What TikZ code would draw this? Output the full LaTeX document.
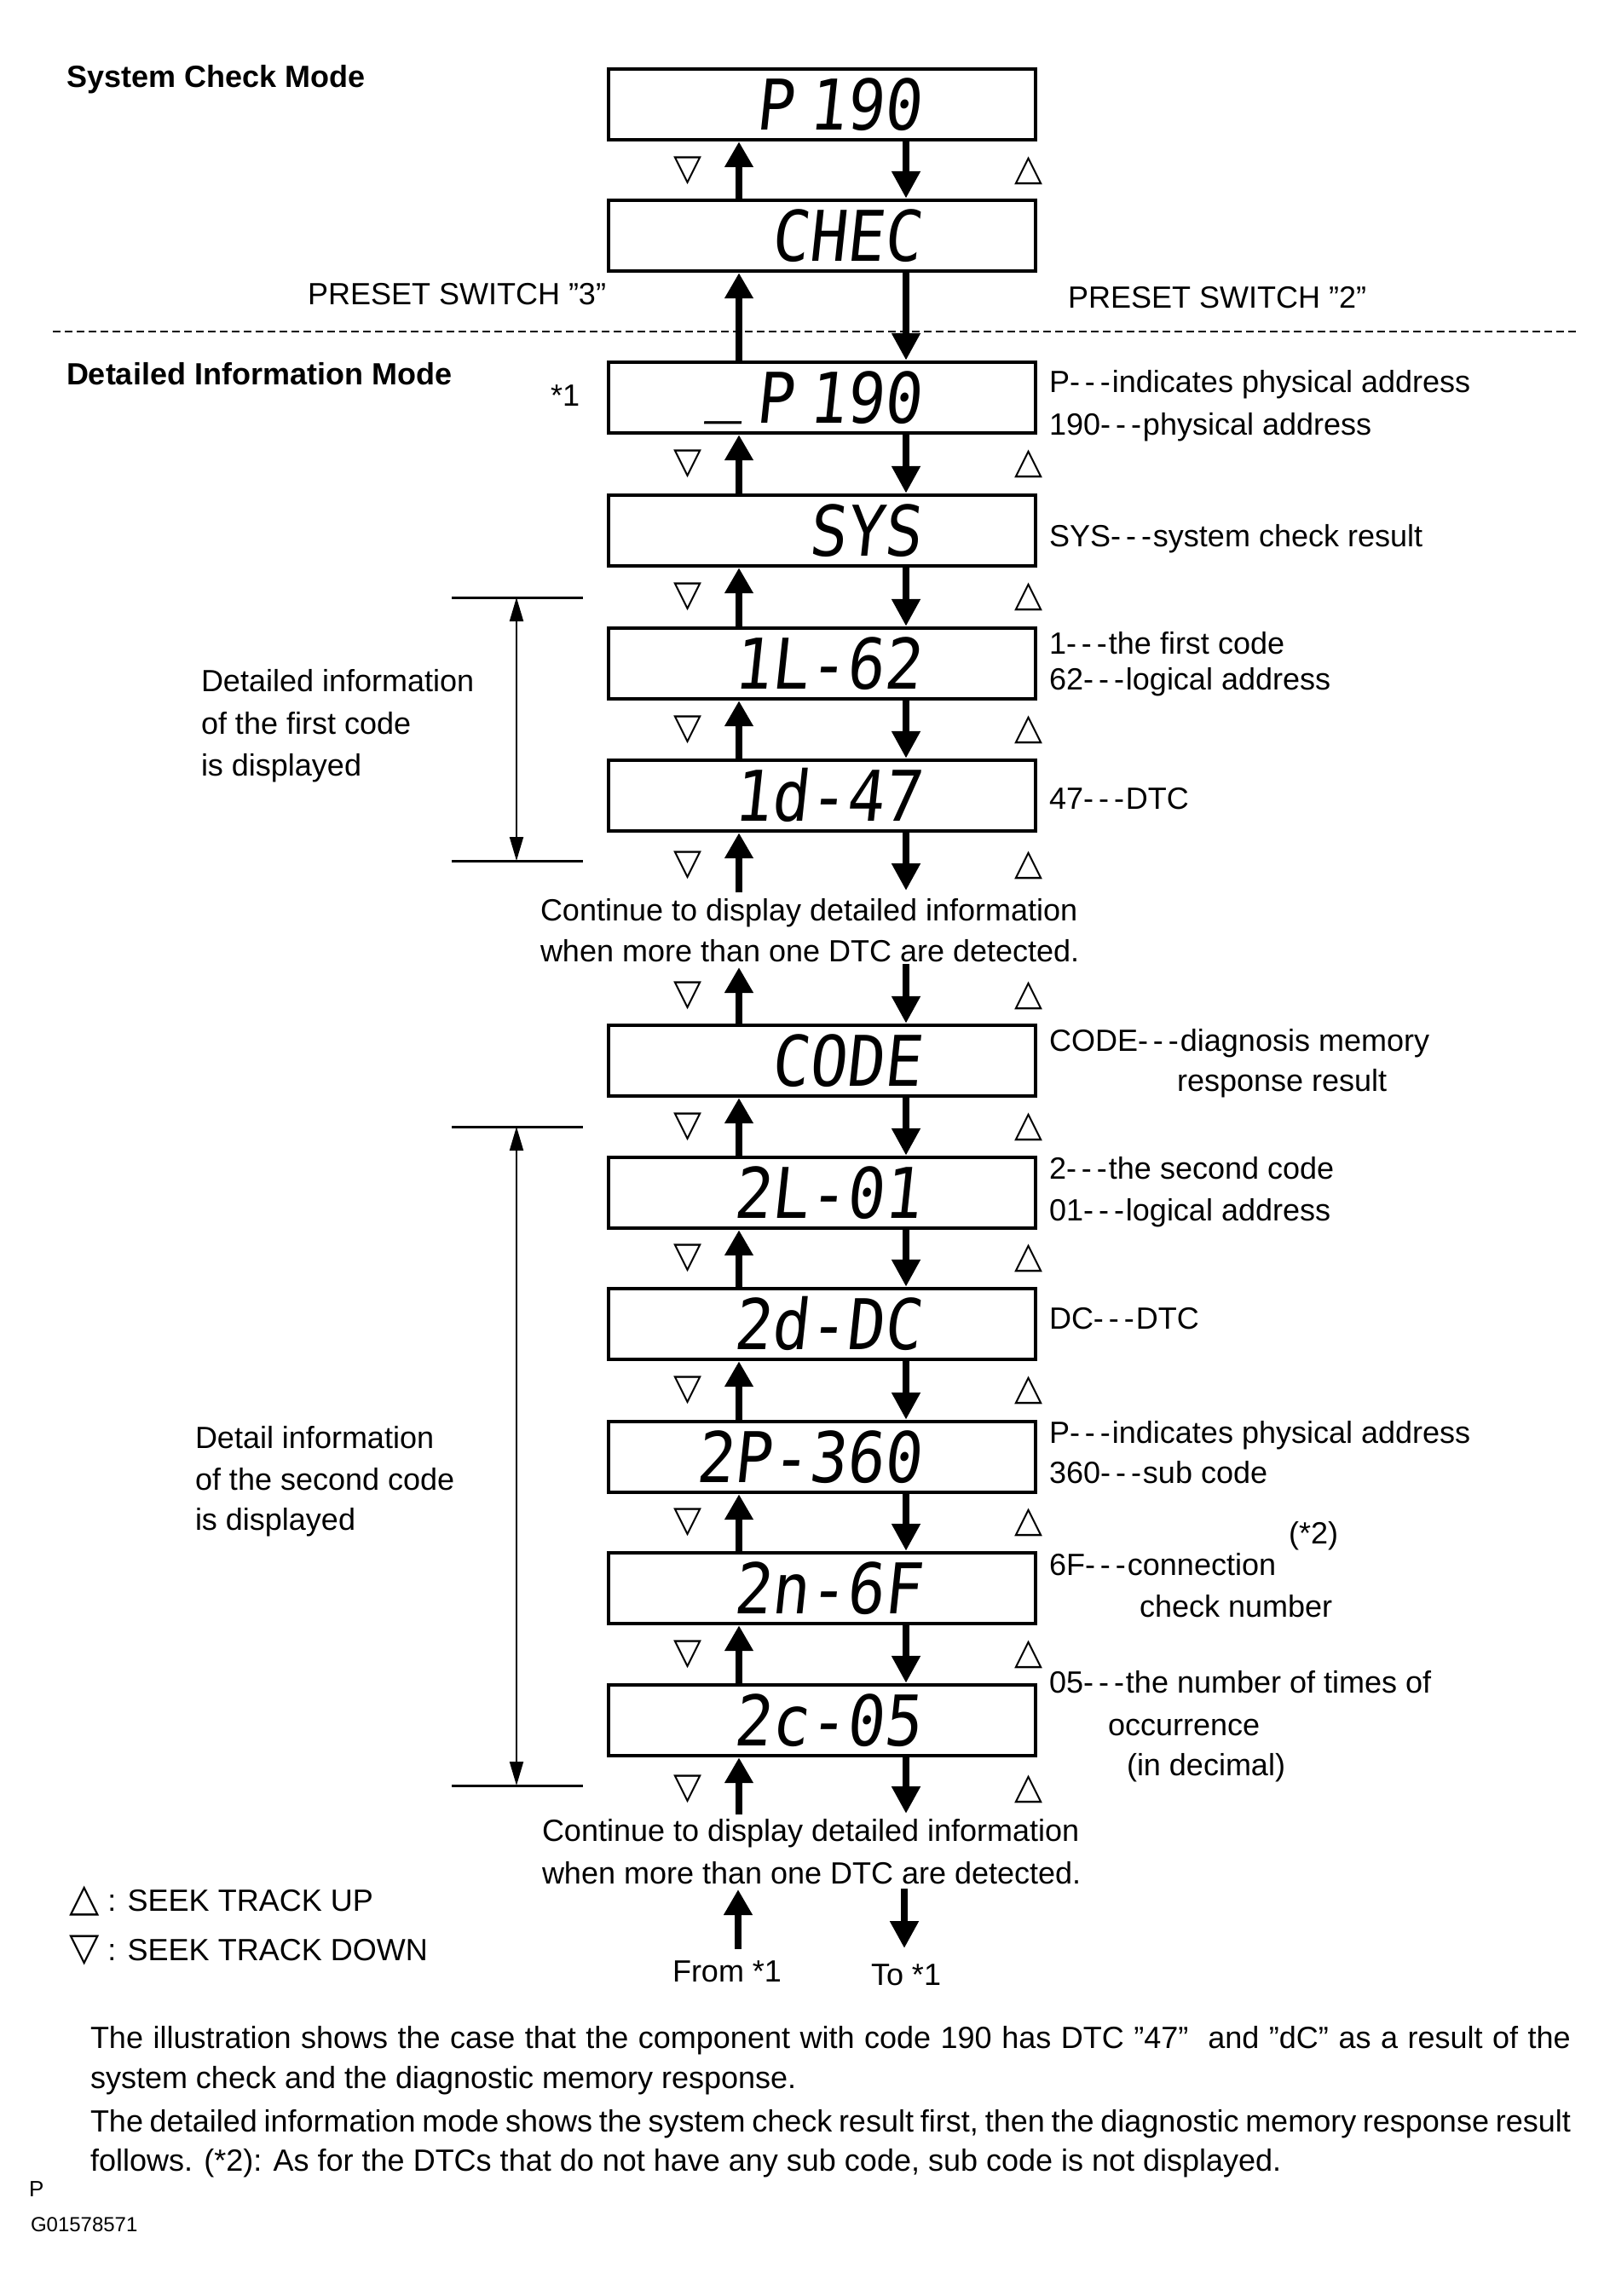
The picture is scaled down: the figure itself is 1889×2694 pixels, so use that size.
\documentclass[tikz,border=0pt]{standalone}
\usepackage{fontspec}
\usepackage{graphicx}
\setmainfont{Liberation Sans}
\newfontfamily\segfont{DejaVu Sans Mono}[FakeSlant=0.12]
\newfontfamily\symfont{DejaVu Sans}
\usetikzlibrary{arrows.meta}
\newcommand\tdash{-\kern3pt-\kern3pt-\kern1pt}
\newcommand\up{{\symfont\bfseries\fontsize{23}{23}\selectfont △}}
\newcommand\dn{{\symfont\bfseries\fontsize{23}{23}\selectfont ▽}}
\begin{document}
\begin{tikzpicture}[x=0.5pt,y=-0.5pt,
  every node/.style={inner sep=0pt,outer sep=0pt},
  txt/.style={anchor=base west,font=\fontsize{18}{22}\selectfont},
  hdr/.style={anchor=base west,font=\fontsize{18}{22}\selectfont\bfseries},
  lcd/.style={draw,line width=2.2pt,outer sep=1.1pt,minimum width=250.5pt,minimum height=41.5pt},
  seg/.style={anchor=base east,font=\segfont\fontsize{41}{41}\selectfont},
  upar/.style={line width=4pt,-{Triangle[width=16pt,length=15pt]}},
  dnar/.style={line width=4pt,-{Triangle[width=16pt,length=16pt]}},
  tri/.style={font=\symfont\bfseries\fontsize{21.5}{22}\selectfont},
  brk/.style={line width=1pt,{Triangle[width=8pt,length=14pt]}-{Triangle[width=8pt,length=14pt]}},
  bline/.style={line width=1.5pt},
  ]
\useasboundingbox (0,0) rectangle (1889,2694);
\fill[white] (0,0) rectangle (1889,2694);

\coordinate (ux) at (867,0);
\coordinate (dx) at (1063,0);

% headings
\node[hdr] (h1) at (78,102) {System Check Mode};
\node[hdr] (h2) at (78,451) {Detailed Information Mode};

% display boxes
\node[lcd] (b1) at (964.5,122.5) {};
\node[lcd] (b2) at (964.5,276.5) {};
\node[lcd] (b3) at (964.5,466.5) {};
\node[lcd] (b4) at (964.5,622.5) {};
\node[lcd] (b5) at (964.5,778.5) {};
\node[lcd] (b6) at (964.5,933.5) {};
\node[lcd] (b7) at (964.5,1244.5) {};
\node[lcd] (b8) at (964.5,1399.5) {};
\node[lcd] (b9) at (964.5,1553.5) {};
\node[lcd] (b10) at (964.5,1709.5) {};
\node[lcd] (b11) at (964.5,1863.5) {};
\node[lcd] (b12) at (964.5,2018.5) {};

\node[seg] (s1) at (1080,152) {\scalebox{0.89}[1]{P\hspace{0.25em}190}};
\node[seg] (s2) at (1080,306) {\scalebox{0.89}[1]{CHEC}};
\node[seg] (s3) at (1080,496) {\scalebox{0.89}[1]{\raisebox{0.21em}{\_}\hspace{0.18em}P\hspace{0.25em}190}};
\node[seg] (s4) at (1080,652) {\scalebox{0.89}[1]{SYS}};
\node[seg] (s5) at (1080,808) {\scalebox{0.89}[1]{1L-62}};
\node[seg] (s6) at (1080,963) {\scalebox{0.89}[1]{1d-47}};
\node[seg] (s7) at (1080,1274) {\scalebox{0.89}[1]{CODE}};
\node[seg] (s8) at (1080,1429) {\scalebox{0.89}[1]{2L-01}};
\node[seg] (s9) at (1080,1583) {\scalebox{0.89}[1]{2d-DC}};
\node[seg] (s10) at (1080,1739) {\scalebox{0.89}[1]{2P-360}};
\node[seg] (s11) at (1080,1893) {\scalebox{0.89}[1]{2n-6F}};
\node[seg] (s12) at (1080,2048) {\scalebox{0.89}[1]{2c-05}};

% arrows between boxes
\foreach \u/\l in {b1/b2,b2/b3,b3/b4,b4/b5,b5/b6,b7/b8,b8/b9,b9/b10,b10/b11,b11/b12}{
  \draw[upar] (\l.north -| ux) -- (\u.south -| ux);
  \draw[dnar] (\u.south -| dx) -- (\l.north -| dx);
}
% open ends
\coordinate (o1u) at (867,1047);
\coordinate (o1d) at (1063,1045);
\draw[upar] (o1u) -- (b6.south -| o1u);
\draw[dnar] (b6.south -| o1d) -- (o1d);
\coordinate (o2u) at (867,1135);
\coordinate (o2d) at (1063,1131);
\draw[upar] (b7.north -| o2u) -- (o2u);
\draw[dnar] (o2d) -- (b7.north -| o2d);
\coordinate (o3u) at (867,2129);
\coordinate (o3d) at (1063,2128);
\draw[upar] (o3u) -- (b12.south -| o3u);
\draw[dnar] (b12.south -| o3d) -- (o3d);
\coordinate (f1) at (866,2287);
\coordinate (f2) at (866,2217);
\coordinate (t1) at (1061,2216);
\coordinate (t2) at (1061,2286);
\draw[upar] (f1) -- (f2);
\draw[dnar] (t1) -- (t2);

% seek markers
\foreach \i/\y in {1/200,2/544.5,3/700.5,4/856,5/1015,6/1168,7/1322,8/1476.5,9/1631.5,10/1786.5,11/1941.5,12/2099}{
  \node[tri] (dn\i) at (807,\y) {▽};
  \node[tri] (up\i) at (1207,\y) {△};
}

% dashed separator
\coordinate (dl) at (62,389);
\coordinate (dr) at (1853,389);
\draw[line width=1pt,dash pattern=on 4.5pt off 2.5pt] (dl) -- (dr);

% preset labels
\node[txt] (ps3) at (361,357) {PRESET SWITCH \textquotedblright3\textquotedblright};
\node[txt] (ps2) at (1253,361) {PRESET SWITCH \textquotedblright2\textquotedblright};
\node[txt] (st1) at (646,476) {*1};

% right-hand explanations
\node[txt] (r1) at (1231,460) {P\tdash indicates physical address};
\node[txt] (r2) at (1231,510) {190\tdash physical address};
\node[txt] (r3) at (1231,641) {SYS\tdash system check result};
\node[txt] (r4) at (1231,767) {1\tdash the first code};
\node[txt] (r5) at (1231,809) {62\tdash logical address};
\node[txt] (r6) at (1231,949) {47\tdash DTC};
\node[txt] (r7) at (1231,1233) {CODE\tdash diagnosis memory};
\node[txt] (r8) at (1381,1280) {response result};
\node[txt] (r9) at (1231,1383) {2\tdash the second code};
\node[txt] (r10) at (1231,1432) {01\tdash logical address};
\node[txt] (r11) at (1231,1559) {DC\tdash DTC};
\node[txt] (r12) at (1231,1693) {P\tdash indicates physical address};
\node[txt] (r13) at (1231,1740) {360\tdash sub code};
\node[txt] (r14) at (1512,1811) {(*2)};
\node[txt] (r15) at (1231,1848) {6F\tdash connection};
\node[txt] (r16) at (1337,1897) {check number};
\node[txt] (r17) at (1231,1986) {05\tdash the number of times of};
\node[txt] (r18) at (1300,2036) {occurrence};
\node[txt] (r19) at (1322,2083) {(in decimal)};

% brackets
\coordinate (k1a) at (530,701);
\coordinate (k1b) at (684,701);
\coordinate (k1c) at (530,1010);
\coordinate (k1d) at (684,1010);
\coordinate (k1t) at (606,701);
\coordinate (k1m) at (606,1010);
\draw[bline] (k1a) -- (k1b);
\draw[bline] (k1c) -- (k1d);
\draw[brk] (k1t) -- (k1m);
\coordinate (k2a) at (530,1322);
\coordinate (k2b) at (684,1322);
\coordinate (k2c) at (530,2095);
\coordinate (k2d) at (684,2095);
\coordinate (k2t) at (606,1322);
\coordinate (k2m) at (606,2095);
\draw[bline] (k2a) -- (k2b);
\draw[bline] (k2c) -- (k2d);
\draw[brk] (k2t) -- (k2m);

\node[txt] (l1) at (236,811) {Detailed information};
\node[txt] (l2) at (236,861) {of the first code};
\node[txt] (l3) at (236,910) {is displayed};
\node[txt] (l4) at (229,1699) {Detail information};
\node[txt] (l5) at (229,1748) {of the second code};
\node[txt] (l6) at (229,1795) {is displayed};

% continue notes
\node[txt] (c1) at (634,1080) {Continue to display detailed information};
\node[txt] (c2) at (634,1128) {when more than one DTC are detected.};
\node[txt] (c3) at (636,2160) {Continue to display detailed information};
\node[txt] (c4) at (636,2210) {when more than one DTC are detected.};

% from / to
\node[txt] (fr) at (789,2325) {From *1};
\node[txt] (to) at (1022,2329) {To *1};

% legend
\node[txt] (lg1) at (81,2242) {\up\ : SEEK TRACK UP};
\node[txt] (lg2) at (81,2300) {\dn\ : SEEK TRACK DOWN};

% paragraph
\node[txt] (p1) at (106,2403) {\makebox[868.5pt][s]{The illustration shows the case that the component with code 190 has DTC \textquotedblright47\textquotedblright\ \ and \textquotedblright dC\textquotedblright\ as a result of the}};
\node[txt] (p2) at (106,2450) {system check and the diagnostic memory response.};
\node[txt] (p3) at (106,2501) {\makebox[868.5pt][s]{The detailed information mode shows the system check result first, then the diagnostic memory response result}};
\node[txt] (p4) at (106,2547) {follows. (*2): As for the DTCs that do not have any sub code, sub code is not displayed.};

\node[anchor=base west,font=\fontsize{13}{15}\selectfont] (pp) at (34,2577) {P};
\node[anchor=base west,font=\fontsize{12}{14}\selectfont] (gid) at (36,2618) {G01578571};
\end{tikzpicture}
\end{document}
